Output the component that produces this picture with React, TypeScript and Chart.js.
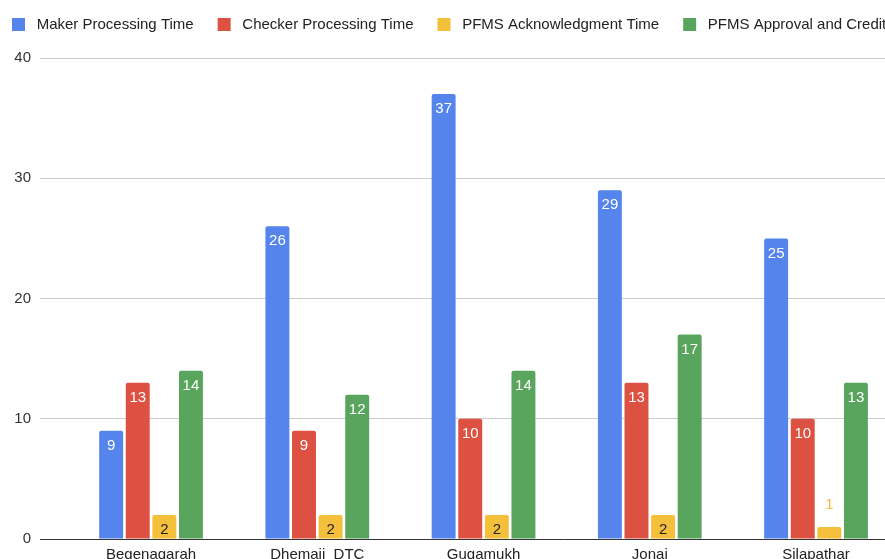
import { useEffect, useRef } from "react";
import { Chart, registerables } from "chart.js";

Chart.register(...registerables);

const CATEGORIES = ["Begenagarah", "Dhemaji  DTC", "Gugamukh", "Jonai", "Silapathar"];
const SERIES_NAMES = [
  "Maker Processing Time",
  "Checker Processing Time",
  "PFMS Acknowledgment Time",
  "PFMS Approval and Credit Time",
];
const MAKER = [9, 26, 37, 29, 25];
const CHECKER = [13, 9, 10, 13, 10];
const ACKNOWLEDGMENT = [2, 2, 2, 2, 1];
const APPROVAL = [14, 12, 14, 17, 13];
const Y_MIN = 0;
const Y_MAX = 40;
const Y_STEP = 10;

const COLORS = ["#5484EC", "#DC5141", "#F4BF3B", "#5AA55E"];
const INSIDE_TEXT = ["#ffffff", "#ffffff", "#222222", "#ffffff"];
const FONT_FAMILY = "'Liberation Sans', Arial, sans-serif";

// extra room between the legend row and the plot
const legendGap = {
  id: "legendGap",
  beforeInit(chart: any) {
    const legend = chart.legend;
    if (!legend) return;
    const fit = legend.fit;
    legend.fit = function () {
      fit.call(this);
      this.height += 16;
    };
  },
};

// value labels: inside the top of tall bars, above short ones
const barValueLabels = {
  id: "barValueLabels",
  afterDatasetsDraw(chart: any) {
    const { ctx } = chart;
    ctx.save();
    ctx.font = `15px ${FONT_FAMILY}`;
    ctx.textAlign = "center";
    ctx.textBaseline = "middle";
    chart.data.datasets.forEach((ds: any, di: number) => {
      const meta = chart.getDatasetMeta(di);
      meta.data.forEach((bar: any, i: number) => {
        const value = ds.data[i].y;
        const { x, y, base } = bar.getProps(["x", "y", "base"], true);
        if (base - y >= 20) {
          ctx.fillStyle = INSIDE_TEXT[di];
          ctx.fillText(String(value), x, y + 15);
        } else {
          ctx.fillStyle = COLORS[di];
          ctx.fillText(String(value), x, y - 22.5);
        }
      });
    });
    ctx.restore();
  },
};

const SERIES = [MAKER, CHECKER, ACKNOWLEDGMENT, APPROVAL];

export default function App() {
  const canvasRef = useRef<HTMLCanvasElement>(null);

  useEffect(() => {
    const canvas = canvasRef.current;
    if (!canvas) return;
    const font = { family: FONT_FAMILY, size: 15 };
    const chart = new Chart(canvas, {
      type: "bar",
      data: {
        datasets: SERIES.map((values, si) => ({
          label: SERIES_NAMES[si],
          data: values.map((v, i) => ({ x: i, y: v })),
          backgroundColor: COLORS[si],
          borderWidth: 0,
          borderRadius: 2,
          categoryPercentage: 0.64,
          barPercentage: 0.9,
        })),
      },
      options: {
        responsive: false,
        animation: false,
        devicePixelRatio: 1,
        layout: { padding: 0 },
        plugins: {
          tooltip: { enabled: false },
          legend: {
            position: "top",
            align: "start",
            labels: {
              boxWidth: 13,
              boxHeight: 13,
              padding: 24,
              color: "#222",
              font,
              generateLabels: (c: any) =>
                Chart.defaults.plugins.legend.labels
                  .generateLabels(c)
                  .map((item: any) => ({ ...item, text: " " + item.text })),
            },
          },
        },
        scales: {
          x: {
            type: "linear",
            min: -0.668,
            max: 5.636,
            offset: false,
            grid: { display: false, drawTicks: false },
            border: { display: true, color: "#333", width: 1 },
            afterBuildTicks: (scale: any) => {
              scale.ticks = CATEGORIES.map((_, i) => ({ value: i }));
            },
            ticks: {
              autoSkip: false,
              maxRotation: 0,
              padding: 7,
              color: "#222",
              font,
              callback: (v: any) => CATEGORIES[v] ?? "",
            },
          },
          y: {
            min: Y_MIN,
            max: Y_MAX,
            grid: {
              color: (c: any) => (c.tick && c.tick.value === 0 ? "rgba(0,0,0,0)" : "#cccccc"),
              drawTicks: false,
            },
            border: { display: false },
            ticks: { stepSize: Y_STEP, padding: 9, color: "#333", font },
            afterFit: (scale: any) => {
              scale.width = 52;
            },
          },
        },
      } as any,
      plugins: [legendGap, barValueLabels],
    });
    return () => chart.destroy();
  }, []);

  return (
    <div
      style={{
        position: "fixed",
        left: 0,
        top: 0,
        width: "100vw",
        height: "100vh",
        overflow: "hidden",
        background: "#fff",
      }}
    >
      <canvas
        ref={canvasRef}
        width={1100}
        height={578}
        style={{ position: "absolute", left: -12, top: -7, width: 1100, height: 578 }}
      />
    </div>
  );
}
